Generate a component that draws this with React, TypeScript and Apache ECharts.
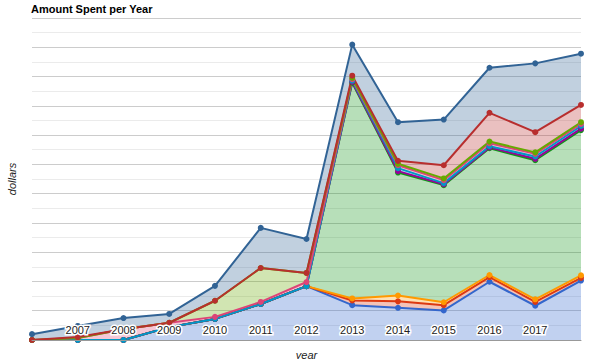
import React, { useEffect, useRef } from "react";
import * as echarts from "echarts";

const years = ["2006", "2007", "2008", "2009", "2010", "2011", "2012", "2013", "2014", "2015", "2016", "2017", "2018"];

const seriesNames = ["A", "B", "C", "D", "E", "F", "G", "H", "I", "J"];
const seriesColors = ["#3366cc", "#dc3912", "#ff9900", "#109618", "#990099", "#0099c6", "#dd4477", "#66aa00", "#b82e2e", "#316395"];

const s0 = [0, 0, 0, 440, 720, 1230, 1840, 1190, 1100, 1010, 1990, 1170, 2030];
const s1 = [0, 0, 0, 0, 0, 0, 0, 160, 220, 180, 160, 130, 90];
const s2 = [0, 0, 0, 0, 0, 0, 0, 70, 200, 100, 70, 90, 90];
const s3 = [0, 0, 0, 0, 0, 0, 0, 7370, 4200, 4000, 4330, 4750, 4960];
const s4 = [0, 0, 0, 0, 0, 0, 0, 30, 50, 30, 30, 50, 50];
const s5 = [0, 0, 0, 0, 0, 0, 0, 40, 100, 40, 40, 80, 90];
const s6 = [0, 70, 370, 150, 70, 70, 140, 50, 100, 100, 100, 90, 70];
const s7 = [0, 0, 0, 0, 550, 1160, 310, 40, 50, 60, 60, 50, 60];
const s8 = [0, 30, 0, 0, 0, 0, 0, 80, 100, 450, 980, 690, 590];
const s9 = [200, 380, 380, 300, 510, 1370, 1160, 1060, 1320, 1560, 1540, 2350, 1750];

const allSeries = [s0, s1, s2, s3, s4, s5, s6, s7, s8, s9];

const yMax = 11000;
const yInterval = 1000;

const FONT = "'Liberation Sans', Arial, sans-serif";

export default function App() {
  const ref = useRef<HTMLDivElement>(null);
  useEffect(() => {
    if (!ref.current) return;
    const chart = echarts.init(ref.current, null, { renderer: "svg" });
    chart.setOption({
      animation: false,
      backgroundColor: "#ffffff",
      title: {
        text: "Amount Spent per Year",
        left: 31,
        top: 3,
        padding: 0,
        textStyle: { fontFamily: FONT, fontSize: 11, fontWeight: "bold", color: "#000" },
      },
      grid: { left: 32, right: 31, top: 18, bottom: 19, containLabel: false, outerBoundsMode: "none" },
      xAxis: {
        type: "category",
        data: years,
        boundaryGap: false,
        name: "year",
        nameLocation: "middle",
        nameGap: 9,
        nameTextStyle: { fontFamily: FONT, fontSize: 11, fontStyle: "italic", color: "#222" },
        axisLine: { show: true, lineStyle: { color: "#999", width: 1 } },
        axisTick: { show: false },
        axisLabel: {
          inside: true,
          margin: 5,
          fontFamily: FONT,
          fontSize: 11,
          color: "#222",
          textBorderColor: "#ffffff",
          textBorderWidth: 3,
          formatter: (v: string, i: number) => (i === 0 || i === years.length - 1 ? "" : v),
        },
        splitLine: { show: false },
        z: 10,
      },
      yAxis: {
        type: "value",
        min: 0,
        max: yMax,
        interval: yInterval,
        name: "dollars",
        nameLocation: "middle",
        nameGap: 15,
        nameTextStyle: { fontFamily: FONT, fontSize: 11, fontStyle: "italic", color: "#222" },
        axisLine: { show: false },
        axisTick: { show: false },
        axisLabel: { show: false },
        splitLine: { show: true, lineStyle: { color: "#cccccc", width: 1 } },
        minorTick: { show: false, splitNumber: 2 },
        minorSplitLine: { show: true, lineStyle: { color: "#ebebeb", width: 1 } },
      },
      series: allSeries.map((d, i) => ({
        name: seriesNames[i],
        type: "line",
        stack: "total",
        data: d,
        color: seriesColors[i],
        symbol: "circle",
        symbolSize: 6,
        showSymbol: true,
        lineStyle: { width: 2, color: seriesColors[i] },
        itemStyle: { color: seriesColors[i] },
        areaStyle: { color: seriesColors[i], opacity: 0.3 },
        emphasis: { disabled: true },
      })),
    });
    return () => chart.dispose();
  }, []);
  return (
    <div
      ref={ref}
      style={{ position: "fixed", left: 0, top: 0, width: 612, height: 359 }}
    />
  );
}
